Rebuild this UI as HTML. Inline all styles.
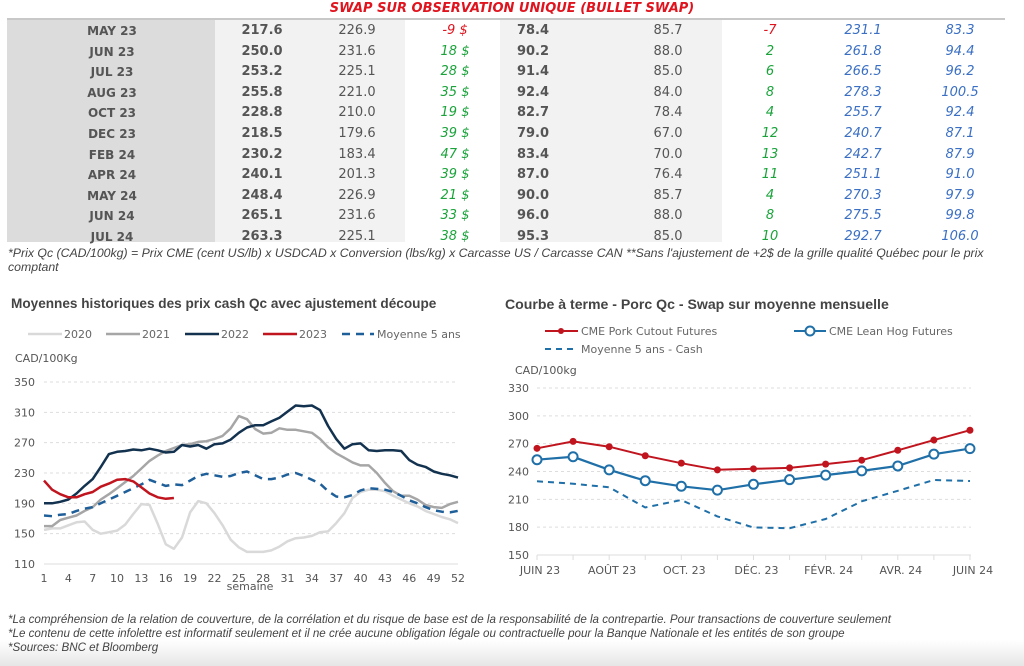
<!DOCTYPE html>
<html><head><meta charset="utf-8"><style>
body{margin:0;width:1024px;height:666px;overflow:hidden;background:linear-gradient(#fff 0,#fff 640px,#e6e6e6 666px);font-family:"DejaVu Sans","Liberation Sans",sans-serif;position:relative}
.a{position:absolute;white-space:nowrap}
.t{position:absolute;left:0;top:0}
.cell{position:absolute;font-size:13px;color:#555;transform:translateX(-50%);line-height:20px}
.b{font-weight:bold}
.i{font-style:italic}
</style></head><body>
<div class="a i b" style="left:0;width:1024px;text-align:center;top:1px;font-size:13px;color:#e0141e">SWAP SUR OBSERVATION UNIQUE (BULLET SWAP)</div>
<div class="a" style="left:7px;top:18px;width:998px;height:2px;background:#c8c8c8"></div>
<div class="a" style="left:7px;top:20px;width:208px;height:222px;background:#dcdcdc"></div>
<div class="a" style="left:215px;top:20px;width:190px;height:222px;background:#f2f2f2"></div>
<div class="a" style="left:500px;top:20px;width:222px;height:222px;background:#f2f2f2"></div>
<div id="tbl"></div>
<div class="a i" style="left:8px;top:246px;font-size:12.3px;color:#444;line-height:14px;width:1000px;white-space:normal;font-family:'Liberation Sans',sans-serif">*Prix Qc (CAD/100kg) = Prix CME (cent US/lb) x USDCAD x Conversion (lbs/kg) x Carcasse US / Carcasse CAN **Sans l'ajustement de +2$ de la grille qualité Québec pour le prix comptant</div>
<div class="a b" style="left:11px;top:296px;font-size:13.6px;color:#444;font-family:'Liberation Sans',sans-serif">Moyennes historiques des prix cash Qc avec ajustement découpe</div>
<div class="a b" style="left:505px;top:296px;font-size:14.1px;color:#444;font-family:'Liberation Sans',sans-serif">Courbe à terme - Porc Qc - Swap sur moyenne mensuelle</div>
<svg class="t" width="1024" height="666" id="sv" font-family="DejaVu Sans, Liberation Sans, sans-serif"></svg>
<div class="a i" style="left:8px;top:613px;font-size:11.6px;color:#444;line-height:14px;font-family:'Liberation Sans',sans-serif">*La compréhension de la relation de couverture, de la corrélation et du risque de base est de la responsabilité de la contrepartie. Pour transactions de couverture seulement<br>*Le contenu de cette infolettre est informatif seulement et il ne crée aucune obligation légale ou contractuelle pour la Banque Nationale et les entités de son groupe<br>*Sources: BNC et Bloomberg</div>
<script>
var rows=[["MAY 23","217.6","226.9","-9 $","78.4","85.7","-7","231.1","83.3"],["JUN 23","250.0","231.6","18 $","90.2","88.0","2","261.8","94.4"],["JUL 23","253.2","225.1","28 $","91.4","85.0","6","266.5","96.2"],["AUG 23","255.8","221.0","35 $","92.4","84.0","8","278.3","100.5"],["OCT 23","228.8","210.0","19 $","82.7","78.4","4","255.7","92.4"],["DEC 23","218.5","179.6","39 $","79.0","67.0","12","240.7","87.1"],["FEB 24","230.2","183.4","47 $","83.4","70.0","13","242.7","87.9"],["APR 24","240.1","201.3","39 $","87.0","76.4","11","251.1","91.0"],["MAY 24","248.4","226.9","21 $","90.0","85.7","4","270.3","97.9"],["JUN 24","265.1","231.6","33 $","96.0","88.0","8","275.5","99.8"],["JUL 24","263.3","225.1","38 $","95.3","85.0","10","292.7","106.0"]];
var xs=[112,262,357,455,533,668,770,863,960],h="";
rows.forEach(function(r,i){var y=21+i*20.6;r.forEach(function(v,j){var st="";var c="#555";var cl="cell";
if(j==0||j==1||j==4)cl+=" b";
if(j==3||j==6){cl+=" i";c=v[0]=="-"?"#e0141e":"#1aa33a";}
if(j==7||j==8){cl+=" i";c="#3a6fc4";}
if(j==0)st="font-size:12px;";
h+='<div class="'+cl+'" style="'+st+'left:'+xs[j]+'px;top:'+y+'px;color:'+c+'">'+v+'</div>';});});
document.getElementById('tbl').innerHTML=h;
var s="";
function LX(w){return 44+(w-1)*8.118}function LY(v){return 564-(v-110)*30.33/40}
for(var v=110;v<=350;v+=40){var y=LY(v);if(v>110)s+='<line x1="44" x2="458" y1="'+y+'" y2="'+y+'" stroke="#ddd" stroke-dasharray="3,3"/>';s+='<text x="14" y="'+(y+4)+'" font-size="11" fill="#555">'+v+'</text>';}
s+='<line x1="44" x2="458" y1="564" y2="564" stroke="#ddd"/>';
for(var w=1;w<=52;w+=3){s+='<text x="'+LX(w)+'" y="582" font-size="11" fill="#555" text-anchor="middle">'+w+'</text>';}
s+='<text x="250" y="590" font-size="11" fill="#555" text-anchor="middle">semaine</text>';
s+='<text x="15" y="362" font-size="11" fill="#555">CAD/100Kg</text>';
var d20=[155,157,157,161,165,166,155,150,152,154,162,176,189,188,163,136,130,145,178,193,190,177,161,142,132,126,126,126,128,133,140,144,145,147,152,153,164,177,197,205,208,208,206,200,195,190,186,180,176,172,169,164];
var d21=[160,160,168,171,174,180,185,195,202,210,218,226,236,246,253,259,263,267,268,271,272,275,279,289,305,301,288,282,283,289,287,287,285,283,275,264,256,250,244,240,240,230,217,206,200,200,195,188,185,184,189,192];
var d22=[190,190,192,195,203,213,222,238,255,258,259,261,260,262,260,257,258,267,265,267,262,268,269,274,283,290,293,293,298,303,311,319,318,319,313,292,275,262,268,269,260,259,260,260,259,247,241,238,232,229,227,224];
var d23=[220,208,202,198,198,202,205,212,216,221,222,219,211,203,198,196,197];
var dm=[174,173,175,176,180,183,185,190,195,200,205,210,215,221,217,213,215,214,220,226,229,227,225,226,230,232,227,222,222,224,228,230,226,221,216,206,199,198,201,207,210,209,208,205,200,194,190,185,181,179,178,180];
function pl(d,c,w,da){return '<polyline fill="none" stroke="'+c+'" stroke-width="'+w+'"'+(da?' stroke-dasharray="'+da+'"':'')+' stroke-linejoin="round" points="'+d.map(function(v,i){return LX(i+1).toFixed(1)+','+LY(v).toFixed(1)}).join(' ')+'"/>';}
s+=pl(d20,"#d9d9d9",2.5)+pl(d21,"#a6a6a6",2.5)+pl(dm,"#1f5f99",2.5,"8,6")+pl(d22,"#13324f",2.5)+pl(d23,"#c0141e",2.5);
var lg=[[28,"#d9d9d9","2020"],[106,"#a6a6a6","2021"],[185,"#13324f","2022"],[263,"#c0141e","2023"]];
lg.forEach(function(l){s+='<line x1="'+l[0]+'" x2="'+(l[0]+34)+'" y1="334" y2="334" stroke="'+l[1]+'" stroke-width="2.5"/><text x="'+(l[0]+36)+'" y="338" font-size="11" fill="#666">'+l[2]+'</text>';});
s+='<line x1="342" x2="374" y1="334" y2="334" stroke="#1f5f99" stroke-width="2.5" stroke-dasharray="8,6"/><text x="377" y="338" font-size="11" fill="#666">Moyenne 5 ans</text>';
function RX(i){return 537+i*36.08}function RY(v){return 555-(v-150)*27.83/30}
for(var v=150;v<=330;v+=30){var y=RY(v);if(v>150)s+='<line x1="537" x2="971" y1="'+y+'" y2="'+y+'" stroke="#ddd" stroke-dasharray="3,3"/>';s+='<text x="508" y="'+(y+4)+'" font-size="11" fill="#555">'+v+'</text>';}
s+='<line x1="537" x2="971" y1="555" y2="555" stroke="#ddd"/>';
for(var i=0;i<=12;i++)s+='<line x1="'+RX(i)+'" x2="'+RX(i)+'" y1="555" y2="560" stroke="#ddd"/>';
var ml=["JUIN 23","AOÛT 23","OCT. 23","DÉC. 23","FÉVR. 24","AVR. 24","JUIN 24"];
ml.forEach(function(m,k){s+='<text x="'+(RX(k*2)+3)+'" y="574" font-size="11" fill="#555" text-anchor="middle">'+m+'</text>';});
s+='<text x="515" y="374" font-size="11" fill="#555">CAD/100kg</text>';
var cut=[265,272.5,266.7,257,249,241.8,242.9,243.9,248,252.2,262.9,273.9,284.5];
var lean=[252.7,255.9,241.8,230.1,224.1,219.9,226.2,231.2,236.1,240.7,246,258.7,264.7];
var mo=[229.4,226.9,223,201.2,209.3,191.6,179.6,178.9,188.8,207.9,219.2,230.8,229.8];
function rp(d){return d.map(function(v,i){return RX(i).toFixed(1)+','+RY(v).toFixed(1)}).join(' ')}
s+='<polyline fill="none" stroke="#1f6fa8" stroke-width="2" stroke-dasharray="6,5" points="'+rp(mo)+'"/>';
s+='<polyline fill="none" stroke="#c0141e" stroke-width="2" points="'+rp(cut)+'"/>';
cut.forEach(function(v,i){s+='<circle cx="'+RX(i)+'" cy="'+RY(v)+'" r="3.5" fill="#c0141e"/>';});
s+='<polyline fill="none" stroke="#1f6fa8" stroke-width="2.2" points="'+rp(lean)+'"/>';
lean.forEach(function(v,i){s+='<circle cx="'+RX(i)+'" cy="'+RY(v)+'" r="4.5" fill="#fff" stroke="#1f6fa8" stroke-width="2"/>';});
s+='<line x1="545" x2="578" y1="331" y2="331" stroke="#c0141e" stroke-width="2"/><circle cx="561" cy="331" r="3" fill="#c0141e"/><text x="581" y="335" font-size="11" fill="#666">CME Pork Cutout Futures</text>';
s+='<line x1="794" x2="826" y1="331" y2="331" stroke="#1f6fa8" stroke-width="2"/><circle cx="810" cy="331" r="4.5" fill="#fff" stroke="#1f6fa8" stroke-width="2"/><text x="829" y="335" font-size="11" fill="#666">CME Lean Hog Futures</text>';
s+='<line x1="545" x2="578" y1="349" y2="349" stroke="#1f6fa8" stroke-width="2" stroke-dasharray="6,5"/><text x="581" y="353" font-size="11" fill="#666">Moyenne 5 ans - Cash</text>';
document.getElementById('sv').innerHTML=s;
</script>
</body></html>
